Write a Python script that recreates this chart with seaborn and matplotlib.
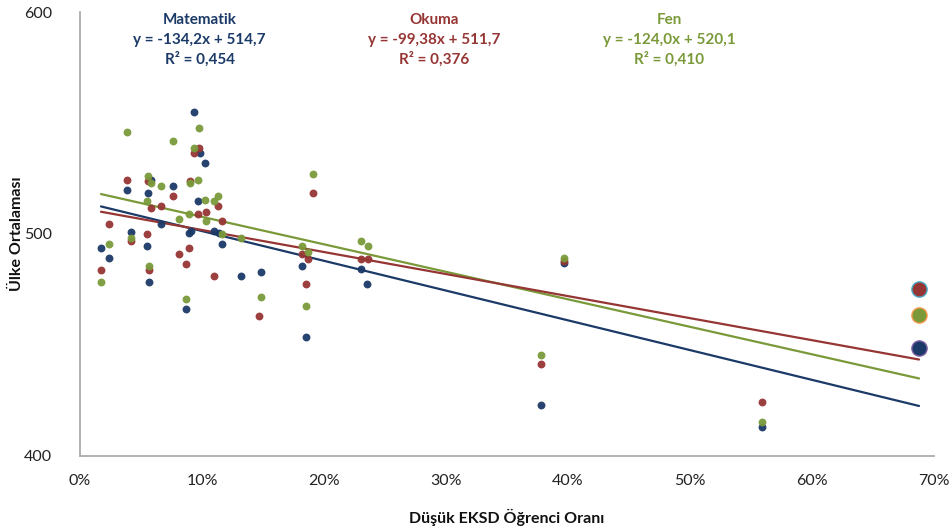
import matplotlib
matplotlib.use("Agg")
import matplotlib.pyplot as plt
import seaborn as sns
import pandas as pd
import numpy as np
from matplotlib.ticker import PercentFormatter, FixedLocator

# Share of low-ESCS students (x) and country mean scores (y), per domain
mat_x = [0.0172, 0.0240, 0.0383, 0.0416, 0.0547, 0.0557, 0.0580, 0.0563, 0.0661, 0.0765,
         0.0896, 0.0910, 0.0871, 0.0934, 0.0984, 0.1022, 0.0970, 0.1098, 0.1137, 0.1164,
         0.1322, 0.1484, 0.1820, 0.1850, 0.2303, 0.2355, 0.3970, 0.3776, 0.5590]
mat_y = [493.8, 489.3, 519.9, 500.7, 494.7, 518.4, 524.1, 478.2, 504.3, 521.4,
         500.5, 501.4, 466.1, 555.1, 536.6, 531.9, 514.8, 501.3, 500.5, 495.3,
         481.1, 482.7, 485.5, 453.5, 484.2, 477.4, 487.0, 422.9, 413.1]

oku_x = [0.0172, 0.0240, 0.0383, 0.0416, 0.0547, 0.0557, 0.0580, 0.0563, 0.0661, 0.0765,
         0.0811, 0.0871, 0.0896, 0.0902, 0.0934, 0.0978, 0.0970, 0.1030, 0.1131, 0.1164,
         0.1096, 0.1465, 0.1820, 0.1866, 0.1850, 0.1907, 0.2303, 0.2358, 0.3970, 0.3776,
         0.5590]
oku_y = [483.6, 504.3, 524.4, 496.8, 499.8, 523.9, 511.5, 483.5, 512.6, 516.9,
         490.8, 486.5, 493.8, 523.8, 536.6, 538.8, 508.8, 509.9, 512.6, 505.8,
         481.1, 463.1, 490.8, 488.5, 477.4, 518.4, 488.7, 488.7, 487.9, 441.5,
         424.2]

fen_x = [0.0172, 0.0240, 0.0383, 0.0416, 0.0547, 0.0557, 0.0580, 0.0563, 0.0661, 0.0765,
         0.0811, 0.0871, 0.0896, 0.0902, 0.0934, 0.0978, 0.0970, 0.1025, 0.1098, 0.1129,
         0.1030, 0.1164, 0.1322, 0.1484, 0.1820, 0.1866, 0.1850, 0.1907, 0.2303, 0.2358,
         0.3970, 0.3776, 0.5590]
fen_y = [478.2, 495.3, 546.0, 498.3, 514.8, 525.9, 522.9, 485.7, 521.4, 541.9,
         506.7, 470.6, 508.8, 522.9, 538.8, 547.6, 524.4, 515.4, 514.8, 516.9,
         505.8, 499.8, 498.0, 471.5, 494.5, 491.7, 467.6, 526.8, 496.8, 494.5,
         489.3, 445.4, 415.2]

# Highlighted country (Türkiye)
tr_x = 0.6877
tr_mat, tr_oku, tr_fen = 448.4, 475.3, 463.4

# Linear trend equations: (slope, intercept, R²)
trends = {
    "Matematik": (-134.2, 514.7, 0.454),
    "Okuma": (-99.38, 511.7, 0.376),
    "Fen": (-124.0, 520.1, 0.410),
}
eq_texts = {
    "Matematik": "y = -134,2x + 514,7",
    "Okuma": "y = -99,38x + 511,7",
    "Fen": "y = -124,0x + 520,1",
}
r2_texts = {
    "Matematik": "R² = 0,454",
    "Okuma": "R² = 0,376",
    "Fen": "R² = 0,410",
}

x_ticks = [0.0, 0.1, 0.2, 0.3, 0.4, 0.5, 0.6, 0.7]
y_ticks = [400, 500, 600]

colors = {"Matematik": "#1B3A68", "Okuma": "#963634", "Fen": "#7A9A3A"}
edge_big = {"Matematik": "#7E5FA4", "Okuma": "#4AAAC6", "Fen": "#F59A4A"}

sns.set_theme(style="white")
plt.rcParams["font.family"] = ["Lato", "DejaVu Sans"]

fig = plt.figure(figsize=(9.5, 5.28), dpi=100)
ax = fig.add_axes([0.0842, 0.137, 0.8990, 0.840])

series = [
    ("Matematik", mat_x, mat_y, tr_mat),
    ("Okuma", oku_x, oku_y, tr_oku),
    ("Fen", fen_x, fen_y, tr_fen),
]

for name, xs, ys, big in series:
    df = pd.DataFrame({"x": xs, "y": ys})
    sns.scatterplot(data=df, x="x", y="y", ax=ax, color=colors[name],
                    s=32, linewidth=0, alpha=0.95, zorder=3)

for name, xs, ys, big in series:
    sns.scatterplot(x=[tr_x], y=[big], ax=ax, color=colors[name],
                    s=120, edgecolor=edge_big[name], linewidth=1.0, zorder=4)

# Trend lines over the observed x range
all_x = mat_x + oku_x + fen_x + [tr_x]
x0, x1 = min(all_x), max(all_x)
for name in ["Fen", "Matematik", "Okuma"]:
    m, b, _ = trends[name]
    lx = np.array([x0, x1])
    sns.lineplot(x=lx, y=m * lx + b, ax=ax, color=colors[name], linewidth=1.6, zorder=2)

ax.set_xlim(0, 0.70)
ax.set_ylim(400, 600)
ax.xaxis.set_major_locator(FixedLocator(x_ticks))
ax.yaxis.set_major_locator(FixedLocator(y_ticks))
ax.xaxis.set_major_formatter(PercentFormatter(1.0, decimals=0))
ax.tick_params(axis="x", length=0, pad=13, labelsize=11.5, labelcolor="#222222")
ax.tick_params(axis="y", length=0, pad=20, labelsize=11.5, labelcolor="#222222")

for side in ["top", "right"]:
    ax.spines[side].set_visible(False)
for side in ["left", "bottom"]:
    ax.spines[side].set_color("#A6A6A6")
    ax.spines[side].set_linewidth(1.2)

ax.set_xlabel("Düşük EKSD Öğrenci Oranı", fontsize=11.5, fontweight="bold",
              color="#111111")
ax.set_ylabel("Ülke Ortalaması", fontsize=11.5, fontweight="bold",
              color="#111111")
ax.xaxis.set_label_coords(0.5, -0.119)
ax.yaxis.set_label_coords(-0.066, 0.5)

# Equation boxes above the points
label_pos = {"Matematik": 0.140, "Okuma": 0.415, "Fen": 0.690}
for name, xpos in label_pos.items():
    c = colors[name]
    kw = dict(transform=ax.transAxes, ha="center", va="center", color=c,
              fontsize=11, fontweight="bold")
    ax.text(xpos, 0.982, name, **kw)
    ax.text(xpos, 0.937, eq_texts[name], **kw)
    ax.text(xpos, 0.894, r2_texts[name], **kw)

fig.savefig("out.png", dpi=100)
